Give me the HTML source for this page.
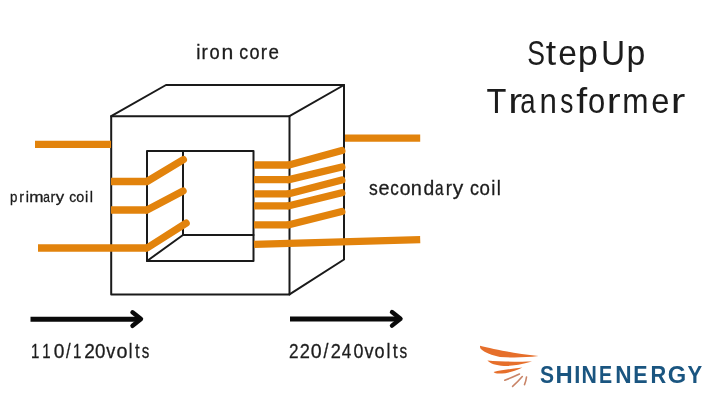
<!DOCTYPE html>
<html><head><meta charset="utf-8">
<style>
html,body{margin:0;padding:0;background:#fff;}
body{width:720px;height:404px;overflow:hidden;position:relative;}
svg{position:absolute;left:0;top:0;filter:blur(0.5px);}
.t{font-family:"Liberation Sans",sans-serif;fill:#1c1c1c;}
</style></head><body>
<svg width="720" height="404" viewBox="0 0 720 404">
<!-- box lines -->
<g stroke="#1a1a1a" stroke-width="2" fill="none" stroke-linejoin="round" stroke-linecap="round">
  <rect x="111.2" y="116.2" width="178.3" height="178.2"/>
  <polyline points="111.2,116.2 166,85 344,85 289.5,116.2"/>
  <polyline points="344,85 344,259.5 289.5,294.4"/>
  <rect x="147" y="151" width="106.5" height="110"/>
  <polyline points="147,261 183,235 253.5,235"/>
  <line x1="183" y1="151" x2="183" y2="235"/>
</g>
<!-- orange wires -->
<g stroke="#e2830c" stroke-width="7.3" fill="none" stroke-linecap="butt">
  <line x1="35" y1="144.4" x2="111" y2="144.4"/>
  <line x1="111" y1="181.5" x2="147" y2="181.5"/>
  <line x1="147" y1="181.5" x2="183.35" y2="159.60" stroke-linecap="round"/>
  <line x1="111" y1="210" x2="147" y2="210"/>
  <line x1="147" y1="210" x2="183.05" y2="191.05" stroke-linecap="round"/>
  <line x1="38" y1="248" x2="147" y2="248"/>
  <line x1="147" y1="248" x2="186.15" y2="223.17" stroke-linecap="round"/>
  <line x1="345" y1="138.2" x2="420.2" y2="138.2"/>
  <line x1="254" y1="165" x2="289" y2="165"/>
  <line x1="289" y1="165" x2="341.85" y2="150.59" stroke-linecap="round"/>
  <line x1="254" y1="179.6" x2="289" y2="179.6"/>
  <line x1="289" y1="179.6" x2="341.85" y2="167.01" stroke-linecap="round"/>
  <line x1="254" y1="193.8" x2="289" y2="193.8"/>
  <line x1="289" y1="193.8" x2="341.85" y2="180.06" stroke-linecap="round"/>
  <line x1="254" y1="205.8" x2="289" y2="205.8"/>
  <line x1="289" y1="205.8" x2="341.85" y2="192.83" stroke-linecap="round"/>
  <line x1="254" y1="224.8" x2="289" y2="224.8"/>
  <line x1="289" y1="224.8" x2="341.85" y2="211.54" stroke-linecap="round"/>
  <line x1="254" y1="244.3" x2="420.2" y2="239.7"/>
</g>

<!-- arrows -->
<g stroke="#0a0a0a" stroke-width="5" fill="none" stroke-linecap="round" stroke-linejoin="round">
  <line x1="30.5" y1="319.2" x2="139" y2="319.2" stroke-linecap="butt"/>
  <polyline points="132.5,312.3 141,319 132.5,325.8" stroke-width="4.4"/>
  <line x1="290" y1="319" x2="398.5" y2="319" stroke-linecap="butt"/>
  <polyline points="392,312.1 400.5,318.8 392,325.6" stroke-width="4.4"/>
</g>

<!-- texts -->
<g font-family="Liberation Sans" font-size="20" font-weight="normal" fill="#1c1c1c" stroke="#1c1c1c" stroke-width="0.3"><text transform="matrix(0.942,0,0,1,196.15,0)" y="58.8">i</text><text transform="matrix(0.942,0,0,1,201.62,0)" y="58.8">r</text><text transform="matrix(0.916,0,0,1,209.61,0)" y="58.8">o</text><text transform="matrix(1.059,0,0,1,221.48,0)" y="58.8">n</text><text transform="matrix(0.891,0,0,1,239.33,0)" y="58.8">c</text><text transform="matrix(0.905,0,0,1,249.42,0)" y="58.8">o</text><text transform="matrix(0.942,0,0,1,260.72,0)" y="58.8">r</text><text transform="matrix(0.937,0,0,1,268.50,0)" y="58.8">e</text></g>
<g font-family="Liberation Sans" font-size="35" font-weight="normal" fill="#1c1c1c"><text transform="matrix(0.760,0,0,1,527.17,0)" y="65.4">S</text><text transform="matrix(1.067,0,0,1,545.77,0)" y="65.4">t</text><text transform="matrix(0.958,0,0,1,558.16,0)" y="65.4">e</text><text transform="matrix(1.035,0,0,1,577.87,0)" y="65.4">p</text><text transform="matrix(0.957,0,0,1,601.07,0)" y="65.4">U</text><text transform="matrix(0.965,0,0,1,626.53,0)" y="65.4">p</text></g>
<g font-family="Liberation Sans" font-size="35" font-weight="normal" fill="#1c1c1c"><text transform="matrix(0.932,0,0,1,486.40,0)" y="112.7">T</text><text transform="matrix(1.200,0,0,1,508.20,0)" y="112.7">r</text><text transform="matrix(0.789,0,0,1,520.32,0)" y="112.7">a</text><text transform="matrix(0.893,0,0,1,539.49,0)" y="112.7">n</text><text transform="matrix(0.750,0,0,1,560.28,0)" y="112.7">s</text><text transform="matrix(1.124,0,0,1,576.34,0)" y="112.7">f</text><text transform="matrix(0.885,0,0,1,588.07,0)" y="112.7">o</text><text transform="matrix(1.189,0,0,1,606.73,0)" y="112.7">r</text><text transform="matrix(0.902,0,0,1,622.37,0)" y="112.7">m</text><text transform="matrix(0.933,0,0,1,651.30,0)" y="112.7">e</text><text transform="matrix(1.250,0,0,1,670.87,0)" y="112.7">r</text></g>
<g font-family="Liberation Sans" font-size="15" font-weight="normal" fill="#1c1c1c" stroke="#1c1c1c" stroke-width="0.3"><text transform="matrix(0.889,0,0,1,10.11,0)" y="202">p</text><text transform="matrix(0.973,0,0,1,19.20,0)" y="202">r</text><text transform="matrix(0.973,0,0,1,25.77,0)" y="202">i</text><text transform="matrix(1.143,0,0,1,29.26,0)" y="202">m</text><text transform="matrix(0.800,0,0,1,43.20,0)" y="202">a</text><text transform="matrix(0.973,0,0,1,50.40,0)" y="202">r</text><text transform="matrix(1.120,0,0,1,55.80,0)" y="202">y</text><text transform="matrix(0.928,0,0,1,69.30,0)" y="202">c</text><text transform="matrix(0.957,0,0,1,76.18,0)" y="202">o</text><text transform="matrix(0.973,0,0,1,84.92,0)" y="202">i</text><text transform="matrix(0.973,0,0,1,89.82,0)" y="202">l</text></g>
<g font-family="Liberation Sans" font-size="20.5" font-weight="normal" fill="#1c1c1c" stroke="#1c1c1c" stroke-width="0.3"><text transform="matrix(0.856,0,0,1,368.97,0)" y="195.4">s</text><text transform="matrix(0.968,0,0,1,378.43,0)" y="195.4">e</text><text transform="matrix(0.834,0,0,1,390.17,0)" y="195.4">c</text><text transform="matrix(0.944,0,0,1,399.69,0)" y="195.4">o</text><text transform="matrix(0.976,0,0,1,410.84,0)" y="195.4">n</text><text transform="matrix(0.941,0,0,1,423.49,0)" y="195.4">d</text><text transform="matrix(0.750,0,0,1,434.96,0)" y="195.4">a</text><text transform="matrix(0.903,0,0,1,445.65,0)" y="195.4">r</text><text transform="matrix(1.024,0,0,1,452.70,0)" y="195.4">y</text><text transform="matrix(0.880,0,0,1,470.12,0)" y="195.4">c</text><text transform="matrix(0.913,0,0,1,479.52,0)" y="195.4">o</text><text transform="matrix(0.903,0,0,1,491.22,0)" y="195.4">i</text><text transform="matrix(0.903,0,0,1,496.66,0)" y="195.4">l</text></g>
<g font-family="Liberation Sans" font-size="20" font-weight="normal" fill="#1c1c1c" stroke="#1c1c1c" stroke-width="0.3"><text transform="matrix(0.750,0,0,1,30.99,0)" y="357.7">1</text><text transform="matrix(0.750,0,0,1,42.29,0)" y="357.7">1</text><text transform="matrix(0.958,0,0,1,53.78,0)" y="357.7">0</text><text transform="matrix(0.830,0,0,1,65.92,0)" y="357.7">/</text><text transform="matrix(0.750,0,0,1,72.99,0)" y="357.7">1</text><text transform="matrix(0.956,0,0,1,84.24,0)" y="357.7">2</text><text transform="matrix(0.937,0,0,1,95.10,0)" y="357.7">0</text><text transform="matrix(0.910,0,0,1,106.20,0)" y="357.7">v</text><text transform="matrix(0.989,0,0,1,116.46,0)" y="357.7">o</text><text transform="matrix(0.830,0,0,1,128.64,0)" y="357.7">l</text><text transform="matrix(0.830,0,0,1,135.11,0)" y="357.7">t</text><text transform="matrix(0.754,0,0,1,141.82,0)" y="357.7">s</text></g>
<g font-family="Liberation Sans" font-size="20" font-weight="normal" fill="#1c1c1c" stroke="#1c1c1c" stroke-width="0.3"><text transform="matrix(0.856,0,0,1,289.04,0)" y="357.7">2</text><text transform="matrix(0.911,0,0,1,299.69,0)" y="357.7">2</text><text transform="matrix(0.979,0,0,1,310.67,0)" y="357.7">0</text><text transform="matrix(0.888,0,0,1,323.61,0)" y="357.7">/</text><text transform="matrix(0.911,0,0,1,330.69,0)" y="357.7">2</text><text transform="matrix(0.860,0,0,1,341.77,0)" y="357.7">4</text><text transform="matrix(0.895,0,0,1,353.43,0)" y="357.7">0</text><text transform="matrix(0.910,0,0,1,364.50,0)" y="357.7">v</text><text transform="matrix(0.905,0,0,1,374.52,0)" y="357.7">o</text><text transform="matrix(0.888,0,0,1,386.41,0)" y="357.7">l</text><text transform="matrix(0.888,0,0,1,392.75,0)" y="357.7">t</text><text transform="matrix(0.766,0,0,1,399.42,0)" y="357.7">s</text></g>
<g font-family="Liberation Sans" font-size="23" font-weight="bold" fill="#1a5580"><text transform="matrix(0.916,0,0,1,539.91,0)" y="382.7">S</text><text transform="matrix(1.037,0,0,1,555.54,0)" y="382.7">H</text><text transform="matrix(0.954,0,0,1,574.17,0)" y="382.7">I</text><text transform="matrix(0.926,0,0,1,581.61,0)" y="382.7">N</text><text transform="matrix(0.854,0,0,1,599.12,0)" y="382.7">E</text><text transform="matrix(0.985,0,0,1,615.32,0)" y="382.7">N</text><text transform="matrix(0.931,0,0,1,633.30,0)" y="382.7">E</text><text transform="matrix(0.945,0,0,1,650.38,0)" y="382.7">R</text><text transform="matrix(1.032,0,0,1,667.87,0)" y="382.7">G</text><text transform="matrix(0.959,0,0,1,687.42,0)" y="382.7">Y</text></g>
<!-- /texts -->
<!-- logo -->
<g fill="#e66f2b">
  <path d="M480,345.7 C492,348.5 515,354 538.5,356 C525,357.6 512,357.8 500,356.9 C492,355.5 485,352.6 481.2,349.3 C480.2,348.4 479.8,346.6 480,345.7Z"/>
  <path d="M487.4,360.5 C500,361.6 518,361.8 532,361.6 C522,364.5 512,366.3 504,366 C496,365.5 490,363.5 487.4,360.5Z"/>
  <path d="M493.6,372 C500,370 512,369 522.4,367.5 C516,371 507,373.5 499,373.6 C496.5,373.6 494.5,373 493.6,372Z"/>
</g>
<g stroke="#c98467" stroke-width="1.6" fill="none" stroke-linecap="round">
  <path d="M504.8,380.2 Q512,377.5 519.5,374"/>
  <path d="M512.6,386.4 Q518,381.5 522.3,376.5"/>
  <path d="M524.5,384.6 Q526,381 526.5,377"/>
</g>
</svg>
</body></html>
